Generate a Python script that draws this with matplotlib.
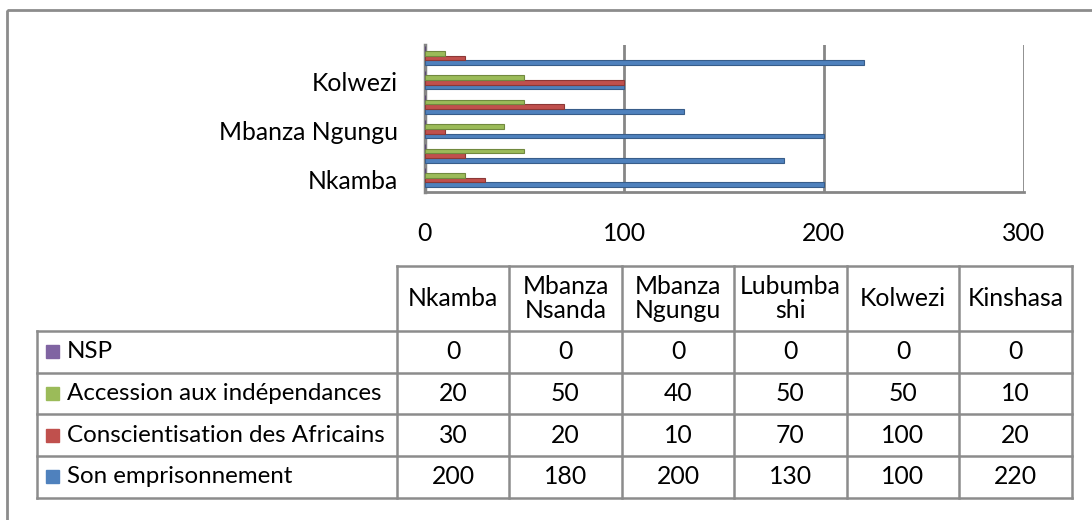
import matplotlib
matplotlib.use('Agg')
import matplotlib.pyplot as plt
from matplotlib.patches import Rectangle
import numpy as np

plt.rcParams['font.family'] = ['Lato', 'DejaVu Sans']

# Les données du graphique (de bas en haut)
villes = ["Nkamba", "Mbanza Nsanda", "Mbanza Ngungu", "Lubumbashi", "Kolwezi", "Kinshasa"]
entetes = ["Nkamba", "Mbanza\nNsanda", "Mbanza\nNgungu", "Lubumba\nshi", "Kolwezi", "Kinshasa"]
series = ["Son emprisonnement", "Conscientisation des Africains",
          "Accession aux indépendances", "NSP"]
emprisonnement = [200, 180, 200, 130, 100, 220]
conscientisation = [30, 20, 10, 70, 100, 20]
accession = [20, 50, 40, 50, 50, 10]
nsp = [0, 0, 0, 0, 0, 0]
valeurs = [emprisonnement, conscientisation, accession, nsp]
couleurs = ["#4F81BD", "#C0504D", "#9BBB59", "#8064A2"]
bords = ["#385D8A", "#8C3836", "#71893F", "#5C4776"]
xticks = [0, 100, 200, 300]

W, H = 1092, 520
fig = plt.figure(figsize=(W / 100, H / 100), dpi=100)
grid = "#868686"
taille = 17.8

# calque en pixels pour le cadre et le tableau
ov = fig.add_axes([0, 0, 1, 1])
ov.set_xlim(0, W)
ov.set_ylim(H, 0)
ov.axis('off')
ov.add_patch(Rectangle((7, 10), W, H, fill=False, edgecolor="#8c8c8c", lw=2))

# graphique à barres
ax = fig.add_axes([424.6 / W, 1 - 191.7 / H, 599 / W, 146.7 / H])
y = np.arange(len(villes))
h = 0.19
for i, (vals, c, e) in enumerate(zip(valeurs, couleurs, bords)):
    ax.barh(y + (i - 1.5) * h + 0.07, vals, height=h, color=c, edgecolor=e,
            linewidth=0.8, zorder=3)
ax.set_xlim(0, 300)
ax.set_ylim(-0.5, len(villes) - 0.5)
ax.set_xticks(xticks)
ax.set_xticklabels([str(t) for t in xticks], fontsize=taille)
ax.set_yticks(y[::2])
ax.set_yticklabels(villes[::2], fontsize=taille)
ax.tick_params(axis='x', length=0, pad=22)
ax.tick_params(axis='y', length=0, pad=19)
for t in xticks[1:]:
    ax.axvline(t, color=grid, lw=2, zorder=1)
for s in ['top', 'right']:
    ax.spines[s].set_visible(False)
ax.spines['left'].set_color(grid)
ax.spines['left'].set_linewidth(2.5)
ax.spines['bottom'].set_color(grid)
ax.spines['bottom'].set_linewidth(2)

# tableau des données
x0, cw = 396.7, 112.5
xs = [x0 + cw * k for k in range(len(villes) + 1)]
yh0, yh1 = 266, 331
rows = [331, 372.7, 414.3, 456, 497.7]
lc = "#8c8c8c"
lw = 1.8
# en-tête
ov.plot([xs[0], xs[-1]], [yh0, yh0], color=lc, lw=lw)
for xv in xs:
    ov.plot([xv, xv], [yh0, rows[-1]], color=lc, lw=lw)
for k, lab in enumerate(entetes):
    ov.text((xs[k] + xs[k + 1]) / 2, (yh0 + yh1) / 2, lab, ha='center', va='center',
            fontsize=taille, linespacing=1.1)
# lignes
for r in rows:
    ov.plot([37, xs[-1]], [r, r], color=lc, lw=lw)
ov.plot([37, 37], [rows[0], rows[-1]], color=lc, lw=lw)
ordre = [3, 2, 1, 0]  # NSP en haut
for j, si in enumerate(ordre):
    yc = (rows[j] + rows[j + 1]) / 2
    ov.add_patch(Rectangle((46, yc - 6.5), 13, 13, color=couleurs[si]))
    ov.text(67, yc, series[si], ha='left', va='center', fontsize=17.4)
    for k, v in enumerate(valeurs[si]):
        ov.text((xs[k] + xs[k + 1]) / 2, yc, str(v), ha='center', va='center',
                fontsize=taille)

fig.savefig("out.png", dpi=100)
